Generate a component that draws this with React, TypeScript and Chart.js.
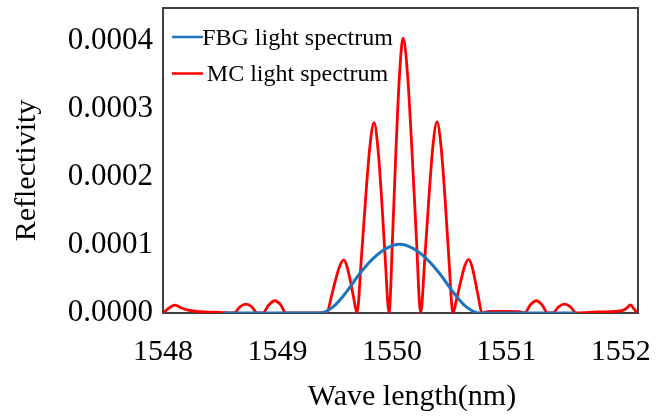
import React, { useEffect, useRef } from "react";
import { Chart, registerables } from "chart.js";

Chart.register(...registerables);

// ---- Data ----
const seriesLabels = ["FBG light spectrum", "MC light spectrum"];
const seriesColors = ["#1F74BE", "#FF0000"];

// FBG light spectrum
const fbgWavelength = [
  1548.521, 1549.353, 1549.37, 1549.486, 1549.603, 1549.719, 1549.835, 1549.952,
  1550.068, 1550.184, 1550.301, 1550.417, 1550.533, 1550.65, 1550.766, 1551.613,
];
const fbgReflectivity = [
  0, 0, 0, 0.09e-4, 0.31e-4, 0.58e-4, 0.8e-4, 0.95e-4,
  1.01e-4, 0.95e-4, 0.8e-4, 0.58e-4, 0.31e-4, 0.09e-4, 0, 0,
];

// MC light spectrum
const mcWavelength = [
  // left tail
  1548.003, 1548.05, 1548.105, 1548.16, 1548.21, 1548.32, 1548.45, 1548.56,
  1548.62, 1548.672, 1548.724, 1548.776, 1548.822, 1548.872, 1548.925, 1548.977,
  1549.028, 1549.073, 1549.431,
  // small left lobe
  1549.468, 1549.505, 1549.542, 1549.579, 1549.608, 1549.637, 1549.666, 1549.695,
  // left lobe
  1549.732, 1549.77, 1549.807, 1549.844, 1549.877, 1549.91, 1549.942, 1549.975,
  // central lobe
  1550.006, 1550.036, 1550.067, 1550.097, 1550.136, 1550.174, 1550.213, 1550.251,
  // right lobe
  1550.287, 1550.323, 1550.358, 1550.394, 1550.429, 1550.464, 1550.498, 1550.533,
  // small right lobe
  1550.567, 1550.602, 1550.636, 1550.67, 1550.699, 1550.728, 1550.757, 1550.786,
  // right tail
  1550.85, 1551.0, 1551.11, 1551.159, 1551.21, 1551.261, 1551.312, 1551.36,
  1551.405, 1551.456, 1551.508, 1551.56, 1551.61, 1551.73, 1551.9, 1552.01,
  1552.05, 1552.085, 1552.115, 1552.14,
];
const mcReflectivity = [
  // left tail
  0, 0.07e-4, 0.115e-4, 0.075e-4, 0.045e-4, 0.02e-4, 0.012e-4, 0.006e-4,
  0, 0.09e-4, 0.13e-4, 0.09e-4, 0, 0, 0.12e-4, 0.18e-4,
  0.12e-4, 0, 0,
  // small left lobe
  0.22e-4, 0.47e-4, 0.68e-4, 0.78e-4, 0.68e-4, 0.47e-4, 0.22e-4, 0,
  // left lobe
  0.78e-4, 1.68e-4, 2.44e-4, 2.8e-4, 2.44e-4, 1.68e-4, 0.78e-4, 0,
  // central lobe
  1.13e-4, 2.42e-4, 3.52e-4, 4.04e-4, 3.52e-4, 2.42e-4, 1.13e-4, 0,
  // right lobe
  0.79e-4, 1.69e-4, 2.45e-4, 2.81e-4, 2.45e-4, 1.69e-4, 0.79e-4, 0,
  // small right lobe
  0.22e-4, 0.47e-4, 0.69e-4, 0.79e-4, 0.69e-4, 0.47e-4, 0.22e-4, 0,
  // right tail
  0.025e-4, 0.022e-4, 0.02e-4, 0, 0.12e-4, 0.18e-4, 0.12e-4, 0,
  0, 0.09e-4, 0.13e-4, 0.09e-4, 0, 0.01e-4, 0.02e-4, 0.035e-4,
  0.07e-4, 0.12e-4, 0.06e-4, 0,
];

const xTicks = [1548, 1549, 1550, 1551, 1552];
const yTicks = [0, 0.0001, 0.0002, 0.0003, 0.0004];
const xTitle = "Wave length(nm)";
const yTitle = "Reflectivity";

const FONT = "'Liberation Serif', 'Times New Roman', serif";

const framePlugin = {
  id: "frame",
  beforeDatasetsDraw(chart: any) {
    const { ctx, chartArea } = chart;
    ctx.save();
    ctx.strokeStyle = "#404040";
    ctx.lineWidth = 2;
    ctx.strokeRect(chartArea.left, chartArea.top, chartArea.right - chartArea.left, chartArea.bottom - chartArea.top);
    ctx.restore();
  },
};

const annotationsPlugin = {
  id: "annotations",
  afterDraw(chart: any) {
    const { ctx } = chart;
    ctx.save();
    // legend inside plot
    const rows = [37, 73.5];
    chart.data.datasets.forEach((ds: any, i: number) => {
      const y = rows[i];
      ctx.strokeStyle = ds.borderColor;
      ctx.lineWidth = 2.5;
      ctx.beginPath();
      ctx.moveTo(172, y);
      ctx.lineTo(203, y);
      ctx.stroke();
      ctx.fillStyle = "#000";
      ctx.font = `24px ${FONT}`;
      ctx.textAlign = "center";
      ctx.textBaseline = "alphabetic";
      ctx.fillText(ds.label, 297.5, y + 7.8);
    });
    // axis titles
    ctx.fillStyle = "#000";
    ctx.font = `30px ${FONT}`;
    ctx.textAlign = "center";
    ctx.textBaseline = "alphabetic";
    ctx.fillText(xTitle, 412, 405);
    ctx.save();
    ctx.translate(34.5, 170.5);
    ctx.rotate(-Math.PI / 2);
    ctx.fillText(yTitle, 0, 0);
    ctx.restore();
    ctx.restore();
  },
};

export default function App() {
  const canvasRef = useRef<HTMLCanvasElement | null>(null);

  useEffect(() => {
    if (!canvasRef.current) return;
    const chart = new Chart(canvasRef.current, {
      type: "line",
      data: {
        datasets: [
          {
            label: seriesLabels[0],
            data: fbgWavelength.map((x, i) => ({ x, y: fbgReflectivity[i] })),
            borderColor: seriesColors[0],
            backgroundColor: seriesColors[0],
            borderWidth: 3,
            pointRadius: 0,
            cubicInterpolationMode: "monotone",
            fill: false,
          },
          {
            label: seriesLabels[1],
            data: mcWavelength.map((x, i) => ({ x, y: mcReflectivity[i] })),
            borderColor: seriesColors[1],
            backgroundColor: seriesColors[1],
            borderWidth: 2.8,
            pointRadius: 0,
            cubicInterpolationMode: "monotone",
            fill: false,
          },
        ],
      },
      options: {
        animation: false,
        responsive: true,
        maintainAspectRatio: false,
        layout: { padding: { top: 8, right: 22, left: 0, bottom: 0 } },
        plugins: {
          legend: { display: false },
          tooltip: { enabled: false },
          title: { display: false },
        },
        scales: {
          x: {
            type: "linear",
            min: 1548,
            max: 1552.15,
            grid: { display: false, drawTicks: false },
            border: { display: false },
            afterBuildTicks: (scale: any) => {
              scale.ticks = xTicks.map((v) => ({ value: v }));
            },
            afterFit: (scale: any) => {
              scale.height = 105;
              scale.paddingLeft = 0;
              scale.paddingRight = 0;
              scale.paddingTop = 0;
              scale.paddingBottom = 0;
            },
            ticks: {
              autoSkip: false,
              maxRotation: 0,
              padding: 21,
              color: "#000",
              font: { family: FONT, size: 30 },
              callback: (v: any) => String(v),
            },
          },
          y: {
            min: 0,
            max: 0.0004485,
            grid: { display: false, drawTicks: false },
            border: { display: false },
            afterBuildTicks: (scale: any) => {
              scale.ticks = yTicks.map((v) => ({ value: v }));
            },
            afterFit: (scale: any) => {
              scale.width = 163;
              scale.paddingLeft = 0;
              scale.paddingRight = 0;
              scale.paddingTop = 0;
              scale.paddingBottom = 0;
            },
            ticks: {
              padding: 10,
              color: "#000",
              font: { family: FONT, size: 31 },
              callback: (v: any) => Number(v).toFixed(4),
            },
          },
        },
      },
      plugins: [framePlugin, annotationsPlugin],
    });
    return () => chart.destroy();
  }, []);

  return (
    <div style={{ position: "absolute", left: 0, top: 0, width: 660, height: 418, background: "#fff" }}>
      <canvas ref={canvasRef} />
    </div>
  );
}
